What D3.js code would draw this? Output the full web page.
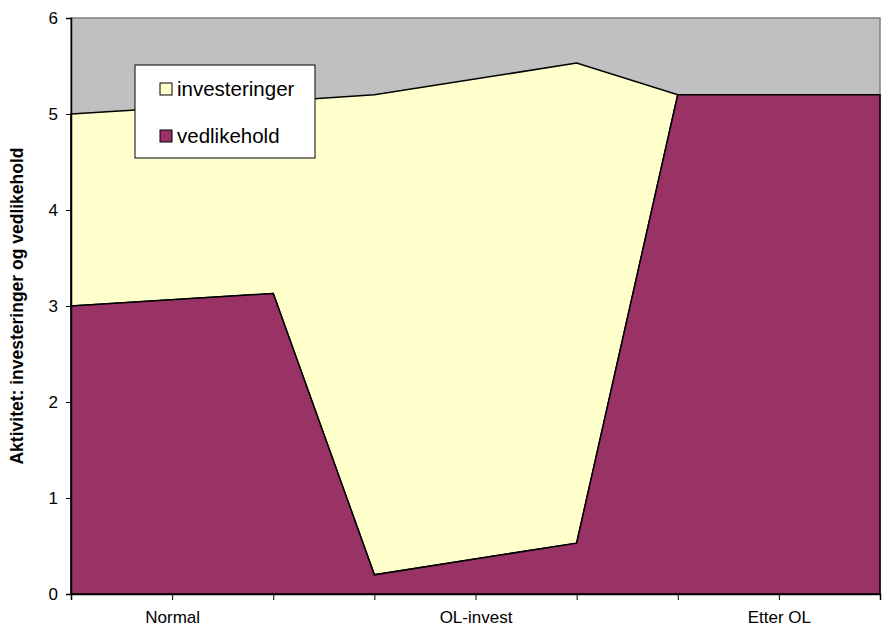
<!DOCTYPE html>
<html><head><meta charset="utf-8">
<script src="https://cdn.jsdelivr.net/npm/d3@7"></script>
<style>body{margin:0;background:#fff}svg{display:block}text{font-family:"Liberation Sans",Arial,sans-serif}</style>
</head><body>
<script>
const positions = [0, 2, 3, 5, 6, 8];
const vedlikehold = [3.0, 3.13, 0.2, 0.53, 5.2, 5.2];
const investeringer = [2.0, 2.0, 5.0, 5.0, 0.0, 0.0];
const tickPositions = [0,1,2,3,4,5,6,7,8];
const tickLabels = ["", "Normal", "", "", "OL-invest", "", "", "Etter OL", ""];
const yTicks = [0,1,2,3,4,5,6];
const seriesNames = ["investeringer", "vedlikehold"];
const colors = {investeringer: "#FFFFCC", vedlikehold: "#993366"};

const W = 882, H = 628;
const m = {l: 71, r: 2, t: 18, b: 34};
const svg = d3.select("body").append("svg").attr("width", W).attr("height", H);
const x = d3.scaleLinear().domain([0, 8]).range([m.l, W - m.r]);
const y = d3.scaleLinear().domain([0, 6]).range([H - m.b, m.t]);

// plot background
svg.append("rect").attr("x", x(0)).attr("y", y(6)).attr("width", x(8) - x(0)).attr("height", y(0) - y(6))
  .attr("fill", "#C0C0C0").attr("stroke", "#808080").attr("stroke-width", 1.5);

const data = positions.map((p, i) => ({p, v: vedlikehold[i], t: vedlikehold[i] + investeringer[i]}));

const areaInv = d3.area().x(d => x(d.p)).y0(d => y(d.v)).y1(d => y(d.t));
const areaVed = d3.area().x(d => x(d.p)).y0(() => y(0)).y1(d => y(d.v));

svg.append("path").datum(data).attr("d", areaInv).attr("fill", colors.investeringer)
  .attr("stroke", "#000").attr("stroke-width", 1.5).attr("stroke-linejoin", "miter");
svg.append("path").datum(data).attr("d", areaVed).attr("fill", colors.vedlikehold)
  .attr("stroke", "#000").attr("stroke-width", 1.5).attr("stroke-linejoin", "miter");

// axes
const gx = svg.append("g").attr("transform", `translate(0,${y(0)})`)
  .call(d3.axisBottom(x).tickValues(tickPositions).tickSize(6).tickPadding(11).tickFormat((d, i) => tickLabels[i]));
const gy = svg.append("g").attr("transform", `translate(${x(0)},0)`)
  .call(d3.axisLeft(y).tickValues(yTicks).tickSize(5).tickPadding(8).tickFormat(d3.format("d")));
[gx, gy].forEach(g => {
  g.select(".domain").attr("stroke", "#000").attr("stroke-width", 1.5);
  g.selectAll(".tick line").attr("stroke", "#000");
  g.selectAll("text").attr("font-size", 17).attr("fill", "#000").style("font-family", '"Liberation Sans",Arial,sans-serif');
});

// y-axis title
svg.append("text").attr("transform", `translate(23,${(y(0) + y(6)) / 2}) rotate(-90)`)
  .attr("text-anchor", "middle").attr("font-size", 17.5).attr("font-weight", "bold").attr("fill", "#000")
  .text("Aktivitet: investeringer og vedlikehold");

// legend
const lg = svg.append("g").attr("transform", "translate(135,65)");
lg.append("rect").attr("width", 180).attr("height", 93).attr("fill", "#fff").attr("stroke", "#000").attr("stroke-width", 1);
seriesNames.forEach((n, i) => {
  const gy2 = 24 + i * 47;
  lg.append("rect").attr("x", 25).attr("y", gy2 - 6).attr("width", 12).attr("height", 12)
    .attr("fill", colors[n]).attr("stroke", "#000").attr("stroke-width", 1);
  lg.append("text").attr("x", 42).attr("y", gy2).attr("dy", "0.35em").attr("font-size", 20.5).attr("fill", "#000").text(n);
});
</script>
</body></html>
